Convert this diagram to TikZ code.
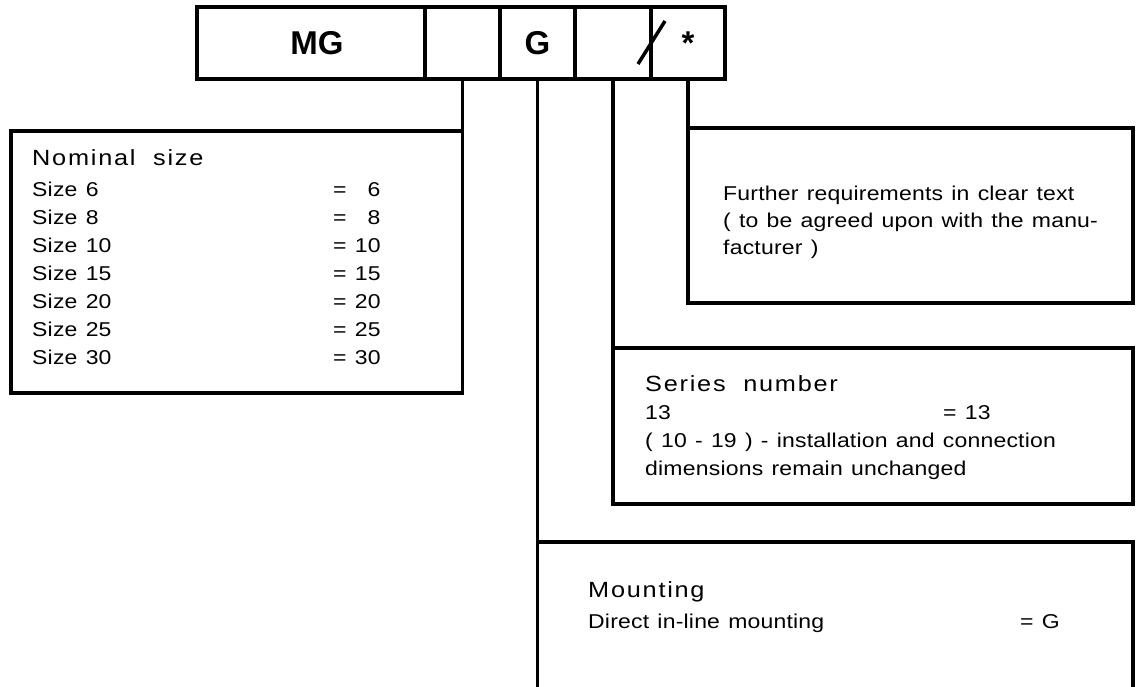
\documentclass[tikz,border=0pt]{standalone}
\usepackage{fontspec}
\setmainfont{Liberation Sans}[FakeStretch=1.15, LetterSpace=1, WordSpace=1.25]
\newfontfamily\barfont{Liberation Sans}
\newfontfamily\headfont{Liberation Sans}[FakeStretch=1.15, LetterSpace=8, WordSpace=2]
\usepackage{tikz}
\usetikzlibrary{positioning}

% text with a value column at a fixed offset
\newcommand{\valrow}[3]{\makebox[#1][l]{#2}#3}

\begin{document}
\begin{tikzpicture}[
        x=1pt, y=-1pt,
        cell/.style={rectangle, draw, line width=3.5pt, minimum height=72pt, inner sep=0pt, outer sep=0pt, font=\barfont\bfseries\fontsize{33}{33}\selectfont},
        box/.style={rectangle, draw, line width=3.5pt, inner sep=0pt, outer sep=0pt},
        head/.style={anchor=base west, inner sep=0pt, font=\headfont\fontsize{22}{22}\selectfont},
        body/.style={anchor=base west, inner sep=0pt, font=\fontsize{20}{28}\selectfont},
        link/.style={line width=3.5pt}
    ]
        \useasboundingbox (0,0) rectangle (1139,686);
        \clip (0,0) rectangle (1139,686);

        % type code
        \node[cell, minimum width=228pt] (mg) at (311,43) {\hspace{12pt}MG};
        \node[cell, minimum width=75pt, right=0pt of mg] (size) {};
        \node[cell, minimum width=75pt, right=0pt of size] (mount) {G};
        \node[cell, minimum width=76pt, right=0pt of mount] (series) {};
        \node[cell, minimum width=74pt, right=0pt of series] (extra) {*};
        \draw[link] (638,64) -- (665,21);

        % boxes
        \node[box, anchor=north east, minimum width=451.5pt, minimum height=262pt] (sizebox) at (size.south |- 0,131) {};
        \node[box, anchor=north west, minimum width=445pt, minimum height=175pt] (extrabox) at (extra.south |- 0,128) {};
        \node[box, anchor=north west, minimum width=520pt, minimum height=156pt] (seriesbox) at (series.south |- 0,348) {};
        \node[box, anchor=north west, minimum width=595.5pt, minimum height=200pt] (mountbox) at (mount.south |- 0,542) {};

        \draw[link] (size.south) -- (sizebox.north east);
        \draw[link] (mount.south) -- (mountbox.north west);
        \draw[link] (series.south) -- (seriesbox.north west);
        \draw[link] (extra.south) -- (extrabox.north west);

        % nominal size
        \node[head] (sizehead) at (32,165) {Nominal size};
        \node[body] (size6) at (32,196) {\valrow{301pt}{Size 6}{= \hphantom{1}6}};
        \node[body] (size8) at (32,224) {\valrow{301pt}{Size 8}{= \hphantom{1}8}};
        \node[body] (size10) at (32,252) {\valrow{301pt}{Size 10}{= 10}};
        \node[body] (size15) at (32,280) {\valrow{301pt}{Size 15}{= 15}};
        \node[body] (size20) at (32,308) {\valrow{301pt}{Size 20}{= 20}};
        \node[body] (size25) at (32,336) {\valrow{301pt}{Size 25}{= 25}};
        \node[body] (size30) at (32,364) {\valrow{301pt}{Size 30}{= 30}};

        % further requirements
        \node[body] (extra1) at (723,200) {Further requirements in clear text};
        \node[body] (extra2) at (723,227) {( to be agreed upon with the manu-};
        \node[body] (extra3) at (723,254) {facturer )};

        % series number
        \node[head] (serieshead) at (645,391) {Series number};
        \node[body] (series1) at (645,419) {\valrow{298pt}{13}{= 13}};
        \node[body] (series2) at (645,447) {( 10 - 19 ) - installation and connection};
        \node[body] (series3) at (645,475) {dimensions remain unchanged};

        % mounting
        \node[head] (mounthead) at (588,597) {Mounting};
        \node[body] (mount1) at (588,628) {\valrow{432pt}{Direct in-line mounting}{= G}};
    \end{tikzpicture}
\end{document}
